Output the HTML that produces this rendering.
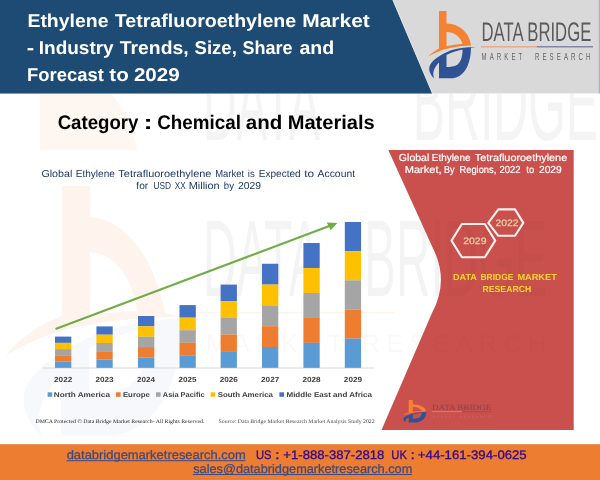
<!DOCTYPE html>
<html>
<head>
<meta charset="utf-8">
<title>Ethylene Tetrafluoroethylene Market</title>
<style>
html,body{margin:0;padding:0;background:#ffffff;}
body{width:600px;height:480px;overflow:hidden;font-family:"Liberation Sans",sans-serif;}
svg{display:block;will-change:transform;}
text{font-family:"Liberation Sans",sans-serif;text-rendering:geometricPrecision;}
.serif{font-family:"Liberation Serif",serif;}
</style>
</head>
<body>
<svg width="600" height="480" viewBox="0 0 600 480">
<defs>
  <g id="blogo-o"><path fill="#f58233" fill-rule="evenodd" d="M439,11 H446.5 V23.5 C455,23.5 463,28 467.5,35 C469.5,38.5 470.5,42 471,45.6 C462,45.8 450,47.5 441,50.5 C436,52.3 431.5,54.5 428.3,56.5 C431,53.5 435,50.5 439,48.5 Z M446.5,32 C454,32 460.5,36.5 462.5,44 C457,44.3 451.5,45 446.5,46.2 Z"/></g>
  <g id="blogo-b"><path fill="#2f5294" fill-rule="evenodd" d="M475.5,47 C468,46.8 460,48 454,49.5 C446,51.5 439,56 434,60 C431.5,62.5 430,64.5 429.5,66.5 C429,69 429.3,71 430,72.5 C431,75 432.5,77 434,78.5 C433,75 433,72.5 434,70 C435,67 437,64.5 439,62.5 L439,78.2 L453,78.2 C459,77.6 464.5,73 467.5,66 C469.6,61 471,55 471,47.8 Z M446.5,55 C451,52.5 457,50.5 462.5,49.5 C462.6,52.5 462.3,55 461.5,58 C460.5,61 459,63.5 457,65 C454,66.5 450.5,67 446.5,67 Z"/></g>
  <g id="blogo"><use href="#blogo-o"/><use href="#blogo-b"/></g>
  <g id="wmtext">
    <g font-size="109">
  <text x="202.90" y="140" textLength="117.19" lengthAdjust="spacingAndGlyphs">DATA</text>
  <text x="412.75" y="140" textLength="185.31" lengthAdjust="spacingAndGlyphs">BRIDGE</text>
  <text x="202.90" y="296" textLength="117.19" lengthAdjust="spacingAndGlyphs">DATA</text>
  <text x="364.10" y="296" textLength="182.93" lengthAdjust="spacingAndGlyphs">BRIDGE</text>
</g>
    <text x="206" y="352" font-size="25" textLength="340" lengthAdjust="spacing" opacity="0.55">MARKET RESEARCH</text>
  </g>
  <clipPath id="wmclip"><rect x="0" y="93.4" width="600" height="351"/></clipPath>
  <clipPath id="panelclip"><path d="M388.3,150 L436,255 Q447.5,284 432,313 L381.5,430 L573.7,430 L573.7,150 Z"/></clipPath>
</defs>

<!-- background -->
<rect x="0" y="0" width="600" height="480" fill="#ffffff"/>

<!-- watermark -->
<g transform="translate(20,185) scale(3.8,3.75) translate(-428.3,-11.5)"><use href="#blogo-b" opacity="0.04"/></g>
<path fill="#f58233" fill-rule="evenodd" opacity="0.085" d="M61.7,186 H90 V217 C122,219 152,250 165,313 L182,316.5 C140,317 95,322 61.7,331 C40,337 20,346 5,357 C18,339 38,325 61.7,316 Z M90,252 C113,254 131,272 137,311 C120,311.5 105,313 90,315.5 Z"/>
<path d="M40,93 L110,93 C124,108 133,128 137,150 L40,150 Z" fill="#f58233" opacity="0.075"/>
<g fill="#000000" opacity="0.045" clip-path="url(#wmclip)"><use href="#wmtext"/></g>
<rect x="195" y="312" width="200" height="1.4" fill="#f58233" opacity="0.09"/>


<!-- header -->
<rect x="0" y="0" width="600" height="93.4" fill="#d9d9d9"/>
<polygon points="0,0 392.6,0 432.2,93.4 0,93.4" fill="#1e4b74"/>
<line x1="392.9" y1="0" x2="432.5" y2="93.4" stroke="#e6e9ee" stroke-width="0.8"/>
<g fill="#ffffff" font-weight="bold" font-size="18.5">
  <text x="27.44" y="27.0" textLength="81.00" lengthAdjust="spacingAndGlyphs">Ethylene</text>
  <text x="114.79" y="27.0" textLength="181.42" lengthAdjust="spacingAndGlyphs">Tetrafluoroethylene</text>
  <text x="302.24" y="27.0" textLength="67.57" lengthAdjust="spacingAndGlyphs">Market</text>
  <text x="26.76" y="54.3" textLength="7.39" lengthAdjust="spacingAndGlyphs">-</text>
  <text x="38.77" y="54.3" textLength="74.91" lengthAdjust="spacingAndGlyphs">Industry</text>
  <text x="119.79" y="54.3" textLength="68.86" lengthAdjust="spacingAndGlyphs">Trends,</text>
  <text x="194.50" y="54.3" textLength="42.31" lengthAdjust="spacingAndGlyphs">Size,</text>
  <text x="242.51" y="54.3" textLength="50.04" lengthAdjust="spacingAndGlyphs">Share</text>
  <text x="299.47" y="54.3" textLength="34.79" lengthAdjust="spacingAndGlyphs">and</text>
  <text x="27.11" y="80.7" textLength="76.71" lengthAdjust="spacingAndGlyphs">Forecast</text>
  <text x="109.38" y="80.7" textLength="19.41" lengthAdjust="spacingAndGlyphs">to</text>
  <text x="133.93" y="80.7" textLength="45.80" lengthAdjust="spacingAndGlyphs">2029</text>
</g>

<rect x="598.8" y="0" width="1.2" height="93.4" fill="#aab3c0"/>
<!-- header logo -->
<use href="#blogo"/>
<text x="481.5" y="41.2" font-size="26.8" fill="#5a5a5c" textLength="109.8" lengthAdjust="spacingAndGlyphs">DATA BRIDGE</text>
<rect x="481" y="46.2" width="56" height="1.2" fill="#e9a07c"/>
<rect x="537" y="46.2" width="56" height="1.2" fill="#70709a"/>
<text transform="translate(481.5,60.3) scale(0.6,1)" font-size="10.1" fill="#636365" textLength="181.5" lengthAdjust="spacing" xml:space="preserve">MARKET  RESEARCH</text>

<!-- category -->
<g fill="#000000" font-weight="bold" font-size="19.7">
  <text x="57.64" y="128.8" textLength="80.84" lengthAdjust="spacingAndGlyphs">Category</text>
  <text x="143.40" y="128.8" textLength="9.21" lengthAdjust="spacingAndGlyphs">:</text>
  <text x="157.24" y="128.8" textLength="83.69" lengthAdjust="spacingAndGlyphs">Chemical</text>
  <text x="245.83" y="128.8" textLength="36.50" lengthAdjust="spacingAndGlyphs">and</text>
  <text x="287.67" y="128.8" textLength="87.15" lengthAdjust="spacingAndGlyphs">Materials</text>
</g>

<!-- chart title -->
<g fill="#1f3864" font-size="10.1">
  <text x="41.47" y="176.9" textLength="30.81" lengthAdjust="spacingAndGlyphs">Global</text>
  <text x="75.81" y="176.9" textLength="39.00" lengthAdjust="spacingAndGlyphs">Ethylene</text>
  <text x="118.38" y="176.9" textLength="93.06" lengthAdjust="spacingAndGlyphs">Tetrafluoroethylene</text>
  <text x="215.25" y="176.9" textLength="28.81" lengthAdjust="spacingAndGlyphs">Market</text>
  <text x="247.78" y="176.9" textLength="6.95" lengthAdjust="spacingAndGlyphs">is</text>
  <text x="258.81" y="176.9" textLength="41.80" lengthAdjust="spacingAndGlyphs">Expected</text>
  <text x="304.22" y="176.9" textLength="9.87" lengthAdjust="spacingAndGlyphs">to</text>
  <text x="317.60" y="176.9" textLength="37.45" lengthAdjust="spacingAndGlyphs">Account</text>
  <text x="136.30" y="189.4" textLength="11.89" lengthAdjust="spacingAndGlyphs">for</text>
  <text x="153.38" y="189.4" textLength="17.57" lengthAdjust="spacingAndGlyphs">USD</text>
  <text x="174.84" y="189.4" textLength="10.90" lengthAdjust="spacingAndGlyphs">XX</text>
  <text x="188.74" y="189.4" textLength="30.94" lengthAdjust="spacingAndGlyphs">Million</text>
  <text x="223.78" y="189.4" textLength="10.24" lengthAdjust="spacingAndGlyphs">by</text>
  <text x="238.09" y="189.4" textLength="22.99" lengthAdjust="spacingAndGlyphs">2029</text>
</g>

<!-- axis -->
<rect x="42.5" y="367.5" width="332" height="1" fill="#d9d9d9"/>

<!-- bars -->
<rect x="55.00" y="336.60" width="16.3" height="6.29" fill="#4472c4"/>
<rect x="55.00" y="342.84" width="16.3" height="6.29" fill="#ffc000"/>
<rect x="55.00" y="349.08" width="16.3" height="6.29" fill="#a5a5a5"/>
<rect x="55.00" y="355.32" width="16.3" height="6.29" fill="#ed7d31"/>
<rect x="55.00" y="361.56" width="16.3" height="6.29" fill="#5b9bd5"/>
<rect x="96.40" y="326.40" width="16.3" height="8.33" fill="#4472c4"/>
<rect x="96.40" y="334.68" width="16.3" height="8.33" fill="#ffc000"/>
<rect x="96.40" y="342.96" width="16.3" height="8.33" fill="#a5a5a5"/>
<rect x="96.40" y="351.24" width="16.3" height="8.33" fill="#ed7d31"/>
<rect x="96.40" y="359.52" width="16.3" height="8.33" fill="#5b9bd5"/>
<rect x="138.00" y="316.00" width="16.3" height="10.41" fill="#4472c4"/>
<rect x="138.00" y="326.36" width="16.3" height="10.41" fill="#ffc000"/>
<rect x="138.00" y="336.72" width="16.3" height="10.41" fill="#a5a5a5"/>
<rect x="138.00" y="347.08" width="16.3" height="10.41" fill="#ed7d31"/>
<rect x="138.00" y="357.44" width="16.3" height="10.41" fill="#5b9bd5"/>
<rect x="179.50" y="305.10" width="16.3" height="12.59" fill="#4472c4"/>
<rect x="179.50" y="317.64" width="16.3" height="12.59" fill="#ffc000"/>
<rect x="179.50" y="330.18" width="16.3" height="12.59" fill="#a5a5a5"/>
<rect x="179.50" y="342.72" width="16.3" height="12.59" fill="#ed7d31"/>
<rect x="179.50" y="355.26" width="16.3" height="12.59" fill="#5b9bd5"/>
<rect x="220.60" y="284.60" width="16.3" height="16.69" fill="#4472c4"/>
<rect x="220.60" y="301.24" width="16.3" height="16.69" fill="#ffc000"/>
<rect x="220.60" y="317.88" width="16.3" height="16.69" fill="#a5a5a5"/>
<rect x="220.60" y="334.52" width="16.3" height="16.69" fill="#ed7d31"/>
<rect x="220.60" y="351.16" width="16.3" height="16.69" fill="#5b9bd5"/>
<rect x="262.00" y="263.75" width="16.3" height="20.86" fill="#4472c4"/>
<rect x="262.00" y="284.56" width="16.3" height="20.86" fill="#ffc000"/>
<rect x="262.00" y="305.37" width="16.3" height="20.86" fill="#a5a5a5"/>
<rect x="262.00" y="326.18" width="16.3" height="20.86" fill="#ed7d31"/>
<rect x="262.00" y="346.99" width="16.3" height="20.86" fill="#5b9bd5"/>
<rect x="303.40" y="243.00" width="16.3" height="25.01" fill="#4472c4"/>
<rect x="303.40" y="267.96" width="16.3" height="25.01" fill="#ffc000"/>
<rect x="303.40" y="292.92" width="16.3" height="25.01" fill="#a5a5a5"/>
<rect x="303.40" y="317.88" width="16.3" height="25.01" fill="#ed7d31"/>
<rect x="303.40" y="342.84" width="16.3" height="25.01" fill="#5b9bd5"/>
<rect x="344.80" y="222.00" width="16.3" height="29.21" fill="#4472c4"/>
<rect x="344.80" y="251.16" width="16.3" height="29.21" fill="#ffc000"/>
<rect x="344.80" y="280.32" width="16.3" height="29.21" fill="#a5a5a5"/>
<rect x="344.80" y="309.48" width="16.3" height="29.21" fill="#ed7d31"/>
<rect x="344.80" y="338.64" width="16.3" height="29.21" fill="#5b9bd5"/>

<!-- year labels -->
<g fill="#404040" font-weight="bold" font-size="7.4">
  <text x="54.07" y="381.6" textLength="18.17" lengthAdjust="spacingAndGlyphs">2022</text>
  <text x="95.47" y="381.6" textLength="18.17" lengthAdjust="spacingAndGlyphs">2023</text>
  <text x="137.08" y="381.6" textLength="17.89" lengthAdjust="spacingAndGlyphs">2024</text>
  <text x="178.58" y="381.6" textLength="18.05" lengthAdjust="spacingAndGlyphs">2025</text>
  <text x="219.67" y="381.6" textLength="18.17" lengthAdjust="spacingAndGlyphs">2026</text>
  <text x="261.07" y="381.6" textLength="18.22" lengthAdjust="spacingAndGlyphs">2027</text>
  <text x="302.47" y="381.6" textLength="18.11" lengthAdjust="spacingAndGlyphs">2028</text>
  <text x="343.87" y="381.6" textLength="18.17" lengthAdjust="spacingAndGlyphs">2029</text>
</g>

<!-- legend -->
<rect x="47.6" y="392.3" width="4.6" height="4.5" fill="#5b9bd5"/>
<rect x="116" y="392.3" width="4.6" height="4.5" fill="#ed7d31"/>
<rect x="156" y="392.3" width="4.6" height="4.5" fill="#a5a5a5"/>
<rect x="210.6" y="392.3" width="4.6" height="4.5" fill="#ffc000"/>
<rect x="279.4" y="392.3" width="4.6" height="4.5" fill="#4472c4"/>
<g fill="#404040" font-weight="bold" font-size="7.1">
  <text x="53.88" y="397.0" textLength="56.07" lengthAdjust="spacingAndGlyphs">North America</text>
  <text x="122.90" y="397.0" textLength="26.92" lengthAdjust="spacingAndGlyphs">Europe</text>
  <text x="162.84" y="397.0" textLength="41.78" lengthAdjust="spacingAndGlyphs">Asia Pacific</text>
  <text x="217.78" y="397.0" textLength="55.16" lengthAdjust="spacingAndGlyphs">South America</text>
  <text x="286.49" y="397.0" textLength="85.43" lengthAdjust="spacingAndGlyphs">Middle East and Africa</text>
</g>

<!-- arrow -->
<line x1="55.5" y1="329" x2="330" y2="225.8" stroke="#70ad47" stroke-width="2.2"/>
<polygon points="337.3,223 326.7,222.6 330.7,230.3" fill="#70ad47"/>

<!-- footnotes -->
<g class="serif" fill="#222222" font-size="5.5">
  <text x="35.44" y="422.6" textLength="168.90" lengthAdjust="spacingAndGlyphs" class="serif">DMCA Protected © Data Bridge Market Research- All Rights Reserved.</text>
</g>
<g class="serif" fill="#4a4a4a" font-size="5.5">
  <text x="218.63" y="422.6" textLength="156.00" lengthAdjust="spacingAndGlyphs" class="serif">Source: Data Bridge Market Research Market Analysis Study 2022</text>
</g>

<!-- red panel -->
<path d="M388.3,150 L436,255 Q447.5,284 432,313 L381.5,430 L573.7,430 L573.7,150 Z" fill="#c9504c"/>
<g fill="#000000" opacity="0.025" clip-path="url(#panelclip)"><use href="#wmtext"/></g>
<g fill="#ffffff" font-size="10.2" stroke="#ffffff" stroke-width="0.2">
  <text x="398.88" y="160.6" textLength="30.42" lengthAdjust="spacingAndGlyphs">Global</text>
  <text x="431.82" y="160.6" textLength="38.61" lengthAdjust="spacingAndGlyphs">Ethylene</text>
  <text x="474.79" y="160.6" textLength="92.44" lengthAdjust="spacingAndGlyphs">Tetrafluoroethylene</text>
  <text x="404.73" y="172.6" textLength="36.85" lengthAdjust="spacingAndGlyphs">Market,</text>
  <text x="443.89" y="172.6" textLength="10.51" lengthAdjust="spacingAndGlyphs">By</text>
  <text x="459.47" y="172.6" textLength="36.86" lengthAdjust="spacingAndGlyphs">Regions,</text>
  <text x="499.53" y="172.6" textLength="21.12" lengthAdjust="spacingAndGlyphs">2022</text>
  <text x="526.36" y="172.6" textLength="7.81" lengthAdjust="spacingAndGlyphs">to</text>
  <text x="539.00" y="172.6" textLength="22.69" lengthAdjust="spacingAndGlyphs">2029</text>
</g>
<!-- hexagons -->
<polygon points="451.5,240.6 461.9,224 484.8,224 495.2,240.6 484.8,257.3 461.9,257.3" fill="none" stroke="#fdf1ef" stroke-width="2.1" stroke-linejoin="round"/>
<polygon points="488.3,222.9 498.3,209.4 515,209.4 523.3,222.9 515,235.8 498.3,235.8" fill="#c9504c" stroke="#fdf1ef" stroke-width="2.1" stroke-linejoin="round"/>
<g fill="#e2cfa2" stroke="#e2cfa2" stroke-width="0.25" font-size="9.3">
  <text x="463.19" y="244.3" textLength="23.30" lengthAdjust="spacingAndGlyphs">2029</text>
  <text x="495.50" y="226.4" textLength="22.99" lengthAdjust="spacingAndGlyphs">2022</text>
</g>
<g fill="#fdd231" stroke="#a8742a" stroke-width="0.5" stroke-opacity="0.55" paint-order="stroke" font-weight="bold" font-size="8.9">
  <text x="453.04" y="280.3" textLength="23.92" lengthAdjust="spacingAndGlyphs">DATA</text>
  <text x="480.48" y="280.3" textLength="33.02" lengthAdjust="spacingAndGlyphs">BRIDGE</text>
  <text x="517.43" y="280.3" textLength="39.34" lengthAdjust="spacingAndGlyphs">MARKET</text>
  <text x="482.46" y="292.3" textLength="48.82" lengthAdjust="spacingAndGlyphs">RESEARCH</text>
</g>
<!-- panel logo -->
<g transform="translate(402.8,400.2) scale(0.55,0.333) translate(-428.3,-11.5)"><use href="#blogo"/></g>
<text class="serif" x="432" y="410" font-size="8" fill="#7d4650" textLength="59.3" lengthAdjust="spacingAndGlyphs">DATA BRIDGE</text>
<rect x="432" y="411.3" width="30" height="0.8" fill="#e8866a"/>
<rect x="462" y="411.3" width="29.5" height="0.8" fill="#8a506a"/>
<text x="432" y="417.6" font-size="3.6" fill="#b87070" textLength="59" lengthAdjust="spacing">MARKET RESEARCH</text>

<!-- footer -->
<rect x="0" y="444.4" width="600" height="35.6" fill="#ed7d31"/>
<rect x="0" y="444.4" width="600" height="1.1" fill="#db8340"/>
<g fill="#3c4a82" stroke="#3c4a82" stroke-width="0.25" font-size="12.4">
  <text x="66.68" y="459.1" textLength="179.12" lengthAdjust="spacingAndGlyphs">databridgemarketresearch.com</text>
  <text x="193.19" y="472.8" textLength="219.13" lengthAdjust="spacingAndGlyphs">sales@databridgemarketresearch.com</text>
</g>
<rect x="66.5" y="460.2" width="179" height="1" fill="#3c4a82"/>
<rect x="192.8" y="474" width="219.2" height="1" fill="#3c4a82"/>
<g fill="#33098a" stroke="#33098a" stroke-width="0.3" font-size="12.4">
  <text x="255.94" y="459.1" textLength="15.53" lengthAdjust="spacingAndGlyphs">US</text>
  <text x="275.00" y="459.1" textLength="4.69" lengthAdjust="spacingAndGlyphs">:</text>
  <text x="283.37" y="459.1" textLength="100.95" lengthAdjust="spacingAndGlyphs">+1-888-387-2818</text>
  <text x="391.34" y="459.1" textLength="15.57" lengthAdjust="spacingAndGlyphs">UK</text>
  <text x="410.59" y="459.1" textLength="4.41" lengthAdjust="spacingAndGlyphs">:</text>
  <text x="417.86" y="459.1" textLength="108.85" lengthAdjust="spacingAndGlyphs">+44-161-394-0625</text>
</g>
</svg>
</body>
</html>
